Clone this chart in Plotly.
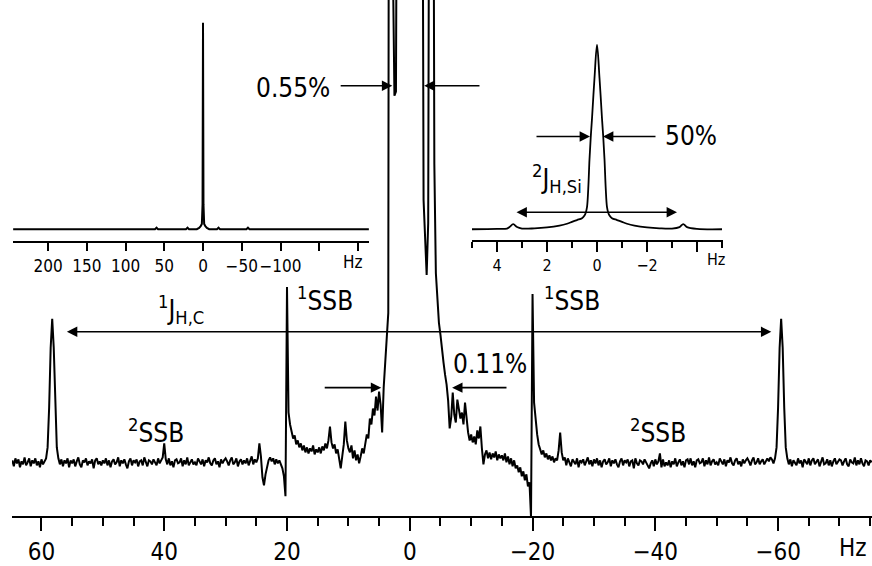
import plotly.graph_objects as go

# ---------------- data ----------------
# main spectrum: intensity sampled on a uniform frequency grid (Hz), arbitrary units
main_start_hz = 64.75
main_step_hz = 0.25
main_intensity = [
    2, -4, 4, -1, 3, -5, 1, -2, 5, -3, 0, 4, -4, 2, -1, 4, -3, 1, -5, 3,
    -2, 1, 4, 15, 55, 115, 144, 115, 55, 15, 4, -2, 3, -4, 2, -1, 4, -5, 2, -1,
    3, -4, 1, 5, -2, -5, 2, 0, 4, -3, 1, -1, 3, -6, 2, 4, -2, 1, -3, 2,
    -1, 4, -3, 2, -5, 1, 3, -2, 0, 5, -4, 2, -1, 3, -2, -6, 1, 4, -3, 2,
    0, 3, -4, 1, 2, -3, 5, -1, -4, 2, 1, -2, 3, 0, -3, 4, -1, 2, 5, 19,
    3, -2, 4, -3, 1, -5, 2, 3, -1, 0, 4, -4, 2, -2, 5, -3, 1, 3, -2, 0,
    -3, 4, 1, -2, 3, -4, 2, 0, 5, -1, -3, 2, 4, -2, 1, -5, 3, -1, 2, 4,
    1, -3, 2, 5, -2, 0, 4, -4, 1, 3, -2, 2, -1, 4, -3, 1, 6, -2, 3, 0,
    4, 19, 6, -15, -23, -12, -3, 2, 5, 1, 4, -2, 3, -1, 2, -2, -6, -14, -34, 176,
    50, 38, 30, 24, 27, 18, 22, 15, 19, 12, 17, 10, 15, 9, 14, 11, 17, 8, 13, 10,
    15, 9, 16, 12, 19, 14, 22, 36, 20, 14, 18, 9, 13, 2, -6, 6, 18, 41, 22, 14,
    10, 17, 4, 12, 2, 8, -1, 6, 14, 9, 21, 28, 24, 44, 38, 54, 47, 66, 52, 71,
    58, 30, 75, 104, 125, 150, 1500, 900, 500, 368, 372, 800, 1500, 3000, 6000, 10000, 17000, 30000, 52000, 68000,
    52000, 30000, 17000, 10000, 6000, 3000, 1500, 800, 263, 225, 188, 240, 420, 1500, 900, 300, 190, 160, 140, 128,
    112, 100, 88, 78, 62, 34, 45, 70, 48, 40, 63, 52, 44, 50, 38, 60, 42, 30, 22, 28,
    20, 26, 18, 32, 24, 36, 14, -2, 8, 12, 4, 10, 3, 9, 5, 11, 2, 8, 4, 7,
    2, 9, 0, 6, -2, 4, -4, 2, -6, -3, -10, -5, -14, -9, -18, -12, -24, -20, -55, 169,
    60, 40, 28, 18, 14, 8, 12, 5, 9, 3, 7, 2, 6, 0, 4, 2, 12, 30, 10, 2,
    5, -3, 4, 0, -4, 3, 1, -2, 4, -5, 2, 0, 3, -3, 1, 5, -2, 2, -4, 3,
    -1, 4, -3, 2, -5, 1, 3, -2, 0, 4, -4, 2, -1, 3, -2, -5, 1, 4, -3, 2,
    0, 3, -4, 1, 2, -6, 4, -1, -3, 2, 1, -2, 3, 0, -3, -6, -1, 2, -4, 3,
    -2, 1, 9, -5, 3, -4, 0, -3, 2, -5, 1, -2, 4, -4, 0, 3, -3, 1, -5, 2,
    3, -2, 4, -3, 1, -5, 2, 3, -1, 0, 4, -4, 2, -2, 5, -3, 1, 3, -2, 0,
    -3, 4, 1, -2, 3, -4, 2, 0, 5, -1, -3, 2, 4, -2, 1, -4, 3, -1, 2, 4,
    1, -3, 2, 5, -2, 0, 4, -2, 1, 3, -2, 2, 4, 1, 5, 3, -1, 4, 15, 55,
    115, 144, 115, 55, 15, 4, -2, 3, -4, 2, 0, -3, 4, -1, 2, -5, 3, 1, -2, 4,
    -3, 2, 4, -2, 0, 3, -4, 1, 5, -2, -1, 3, -3, 2, -4, 1, 4, -2, 0, 3,
    2, -3, 1, 4, -2, -4, 3, 0, -1, 5, -3, 2, -2, 4, -1, -4, 2, 1, -3, 2,
    0,
]
main_hz = [main_start_hz - main_step_hz * i for i in range(len(main_intensity))]
main_tick_vals = [60, 40, 20, 0, -20, -40, -60]
main_tick_text = ["60", "40", "20", "0", "\u221220", "\u221240", "\u221260"]

# wide inset (full spectrum, % of main peak)
wide_hz = [245, 62, 60, 58, 56, 22, 20, 18, 8, 5, 3, 1.5, 0.6, 0, -0.6, -1.5, -3, -5, -8,
           -18, -20, -22, -56, -58, -60, -62, -214]
wide_int = [0, 0, 0.7, 0, 0, 0, 0.7, 0, 0, 0.6, 1.5, 2.5, 12, 100, 12, 2.5, 1.5, 0.6, 0,
            0, 0.7, 0, 0, 0.7, 0, 0, 0]
wide_tick_vals = [200, 150, 100, 50, 0, -50, -100, -150, -200]
wide_tick_text = ["200", "150", "100", "50", "0", "\u221250", "\u2212100", "", ""]

# narrow inset (central line, % of main peak)
zoom_hz = [5.0, 4.0, 3.6, 3.5, 3.35, 3.2, 3.0, 2.5, 2.0, 1.5, 1.2, 1.0, 0.8, 0.6, 0.5, 0.45,
           0.4, 0.35, 0.3, 0.25, 0.2, 0.1, 0.0, -0.1, -0.2, -0.25, -0.3, -0.35, -0.4, -0.45,
           -0.5, -0.6, -0.8, -1.0, -1.2, -1.5, -2.0, -2.5, -3.0, -3.3, -3.45, -3.6, -4.0, -5.0]
zoom_int = [0, 0.2, 0.4, 1.2, 2.8, 1.2, 0.4, 0.5, 1.0, 2.0, 3.0, 4.0, 5.0, 6.0, 7.5, 9,
            12, 22, 38, 50, 60, 82, 100, 82, 60, 50, 38, 22, 12, 9,
            7.5, 6.0, 5.0, 4.0, 3.0, 2.0, 1.0, 0.5, 0.4, 1.2, 2.8, 1.2, 0.2, 0]
zoom_tick_vals = [4, 2, 0, -2, -4]
zoom_tick_text = ["4", "2", "0", "\u22122", ""]

# ---------------- figure ----------------
W, H = 872, 566
FONT = "DejaVu Sans Condensed, DejaVu Sans, sans-serif"


def fx(p):
    return p / W


def fy(p):
    return 1 - p / H


fig = go.Figure()
fig.add_trace(go.Scatter(x=main_hz, y=main_intensity, mode="lines",
                         line=dict(color="black", width=2), xaxis="x", yaxis="y",
                         hoverinfo="skip", showlegend=False))
fig.add_trace(go.Scatter(x=wide_hz, y=wide_int, mode="lines",
                         line=dict(color="black", width=2), xaxis="x2", yaxis="y2",
                         hoverinfo="skip", showlegend=False))
fig.add_trace(go.Scatter(x=zoom_hz, y=zoom_int, mode="lines", line_shape="spline",
                         line=dict(color="black", width=1.8), xaxis="x3", yaxis="y3",
                         hoverinfo="skip", showlegend=False))

axis_common = dict(showline=True, linecolor="black", ticks="outside", tickcolor="black",
                   showgrid=False, zeroline=False, tickmode="array", fixedrange=True,
                   tickangle=0)

fig.update_layout(
    width=W, height=H, margin=dict(l=0, r=0, t=0, b=0),
    paper_bgcolor="white", plot_bgcolor="rgba(0,0,0,0)", showlegend=False,
    font=dict(family=FONT, size=24, color="black"),
    xaxis=dict(domain=[fx(12), 1], range=[64.8, -75.3], anchor="y", linewidth=2,
               ticklen=13, tickwidth=2, tickvals=main_tick_vals, ticktext=main_tick_text,
               tickfont=dict(size=24),
               minor=dict(ticks="outside", ticklen=8, tickwidth=2, tickcolor="black",
                          dtick=5, tick0=0),
               **axis_common),
    yaxis=dict(domain=[fy(518), 1], range=[-54, 464], visible=False, fixedrange=True),
    xaxis2=dict(domain=[fx(13), fx(369)], range=[245.2, -214.2], anchor="y2", linewidth=2,
                ticklen=8, tickwidth=1.5, tickvals=wide_tick_vals, ticktext=wide_tick_text,
                tickfont=dict(size=17), **axis_common),
    yaxis2=dict(domain=[fy(242), fy(20)], range=[-5.8, 101.4], visible=False, fixedrange=True),
    xaxis3=dict(domain=[fx(472), fx(723)], range=[5.0, -5.04], anchor="y3", linewidth=2,
                ticklen=10, tickwidth=1.5, tickvals=zoom_tick_vals, ticktext=zoom_tick_text,
                tickfont=dict(size=16),
                minor=dict(ticks="outside", ticklen=6, tickwidth=1.5, tickcolor="black",
                           dtick=1, tick0=0),
                **axis_common),
    yaxis3=dict(domain=[fy(241), fy(40)], range=[-5.9, 102.7], visible=False, fixedrange=True),
)

ann = []


def arrow(x, y, ax, ay, xr="x", yr="y", both=False):
    d = dict(x=x, y=y, ax=ax, ay=ay, xref=xr, yref=yr, axref=xr, ayref=yr, text="",
             showarrow=True, arrowhead=2, arrowsize=1.3, arrowwidth=1.6,
             arrowcolor="black", standoff=0, startstandoff=0)
    if both:
        d.update(arrowside="end+start", startarrowhead=2, startarrowsize=1.3)
    ann.append(d)


def label(x, y, text, xr="x", yr="y", size=26, xanchor="center", yanchor="middle"):
    ann.append(dict(x=x, y=y, xref=xr, yref=yr, text=text, showarrow=False,
                    font=dict(size=size, family=FONT, color="black"),
                    xanchor=xanchor, yanchor=yanchor))


# main plot annotations
label(19.0, 376, "0.55%")
arrow(2.85, 378, 11.5, 378)
arrow(-2.35, 378, -11.6, 378)
arrow(-58.9, 131, 56.1, 131, both=True)
label(37.2, 133, "<sup>1</sup>J<sub>H,C</sub>", yanchor="bottom")
label(13.8, 164, "<sup>1</sup>SSB")
label(-26.5, 164, "<sup>1</sup>SSB")
label(41.3, 31, "<sup>2</sup>SSB")
label(-40.5, 31, "<sup>2</sup>SSB")
label(-13.1, 99, "0.11%")
arrow(4.65, 75, 14.1, 75)
arrow(-6.9, 75, -16.0, 75)
label(fx(853), fy(550), "Hz", xr="paper", yr="paper", size=24)

# narrow inset annotations
arrow(0.28, 50.3, 2.48, 50.3, xr="x3", yr="y3")
arrow(-0.24, 50.3, -2.4, 50.3, xr="x3", yr="y3")
label(-2.64, 50.3, "50%", xr="x3", yr="y3", xanchor="left")
arrow(-3.2, 9.2, 3.28, 9.2, xr="x3", yr="y3", both=True)
label(1.6, 16.2, "<sup>2</sup>J<sub>H,Si</sub>", xr="x3", yr="y3", yanchor="bottom")
label(fx(716), fy(260), "Hz", xr="paper", yr="paper", size=16)

# wide inset annotation
label(fx(353), fy(263), "Hz", xr="paper", yr="paper", size=17)

fig.update_layout(annotations=ann)
fig.write_html("out.html")
